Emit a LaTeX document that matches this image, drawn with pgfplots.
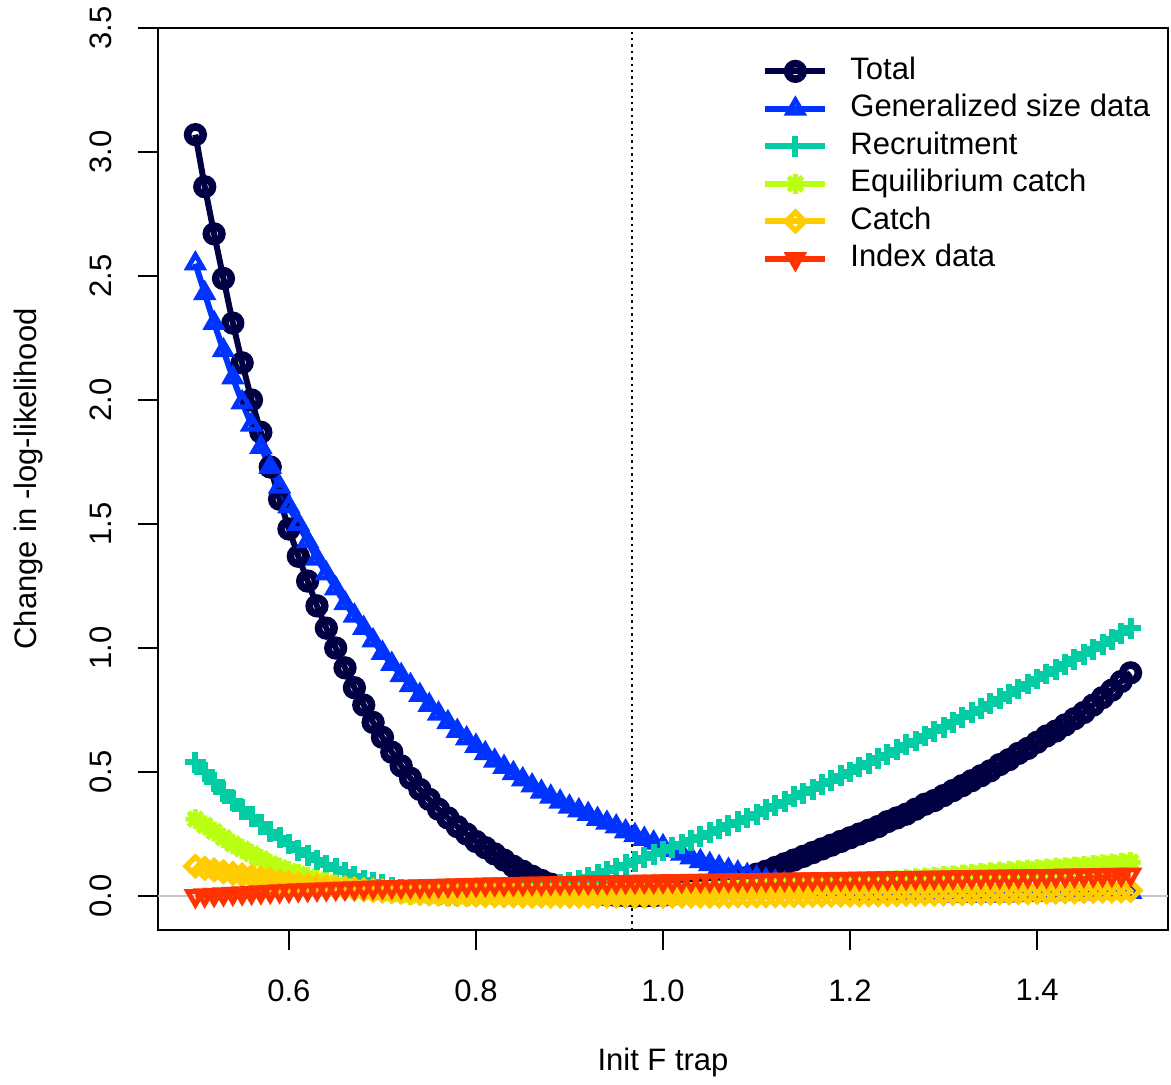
\documentclass[border=0pt]{standalone}
\usepackage{pgfplots}
\pgfplotsset{compat=1.18}
\usepackage{pgfplotstable}
\usepackage{fontspec}
\setmainfont{Liberation Sans}
\definecolor{cT}{HTML}{000043}
\definecolor{cS}{HTML}{0033FF}
\definecolor{cR}{HTML}{01CCA4}
\definecolor{cE}{HTML}{BAFF12}
\definecolor{cC}{HTML}{FFCC00}
\definecolor{cI}{HTML}{FF3300}
\pgfdeclareplotmark{rstar}{%
 \pgfpathmoveto{\pgfqpoint{-\pgfplotmarksize}{0pt}}\pgfpathlineto{\pgfqpoint{\pgfplotmarksize}{0pt}}%
 \pgfpathmoveto{\pgfqpoint{0pt}{-\pgfplotmarksize}}\pgfpathlineto{\pgfqpoint{0pt}{\pgfplotmarksize}}%
 \pgfpathmoveto{\pgfqpoint{-0.707\pgfplotmarksize}{-0.707\pgfplotmarksize}}\pgfpathlineto{\pgfqpoint{0.707\pgfplotmarksize}{0.707\pgfplotmarksize}}%
 \pgfpathmoveto{\pgfqpoint{-0.707\pgfplotmarksize}{0.707\pgfplotmarksize}}\pgfpathlineto{\pgfqpoint{0.707\pgfplotmarksize}{-0.707\pgfplotmarksize}}%
 \pgfusepathqstroke}
\pgfplotstableread{
x T S R E C I
0.50 3.07 2.55 0.54 0.31 0.12 0.000
0.51 2.86 2.43 0.50 0.285 0.112 0.003
0.52 2.67 2.31 0.46 0.26 0.105 0.005
0.53 2.49 2.20 0.42 0.235 0.098 0.008
0.54 2.31 2.09 0.385 0.21 0.091 0.010
0.55 2.15 1.99 0.35 0.19 0.085 0.012
0.56 2.00 1.90 0.32 0.17 0.079 0.014
0.57 1.87 1.81 0.29 0.15 0.073 0.016
0.58 1.73 1.73 0.26 0.13 0.066 0.018
0.59 1.60 1.65 0.235 0.115 0.060 0.020
0.60 1.48 1.57 0.21 0.10 0.055 0.022
0.61 1.37 1.50 0.185 0.088 0.050 0.024
0.62 1.27 1.43 0.165 0.076 0.046 0.025
0.63 1.17 1.36 0.145 0.065 0.042 0.027
0.64 1.08 1.30 0.125 0.055 0.038 0.028
0.65 1.00 1.24 0.11 0.046 0.035 0.030
0.66 0.92 1.18 0.095 0.038 0.032 0.031
0.67 0.84 1.13 0.08 0.031 0.028 0.032
0.68 0.77 1.08 0.065 0.025 0.025 0.034
0.69 0.70 1.03 0.055 0.020 0.022 0.035
0.70 0.64 0.98 0.045 0.015 0.020 0.036
0.71 0.58 0.935 0.035 0.011 0.018 0.037
0.72 0.525 0.89 0.027 0.008 0.016 0.038
0.73 0.475 0.85 0.020 0.005 0.014 0.039
0.74 0.43 0.81 0.014 0.003 0.012 0.040
0.75 0.39 0.77 0.009 0.002 0.010 0.041
0.76 0.35 0.735 0.005 0.001 0.009 0.042
0.77 0.315 0.70 0.003 0.000 0.007 0.043
0.78 0.28 0.665 0.001 0.000 0.006 0.044
0.79 0.25 0.635 0.000 0.000 0.005 0.045
0.80 0.22 0.605 0.000 0.000 0.004 0.046
0.81 0.195 0.575 0.001 0.000 0.003 0.047
0.82 0.17 0.545 0.003 0.000 0.002 0.048
0.83 0.145 0.52 0.006 0.000 0.002 0.048
0.84 0.12 0.495 0.010 0.000 0.001 0.049
0.85 0.10 0.47 0.015 0.000 0.001 0.050
0.86 0.08 0.445 0.021 0.000 0.000 0.051
0.87 0.063 0.42 0.028 0.000 0.000 0.051
0.88 0.048 0.40 0.036 0.000 0.000 0.052
0.89 0.036 0.38 0.045 0.000 0.000 0.053
0.90 0.026 0.36 0.055 0.000 0.000 0.054
0.91 0.018 0.345 0.065 0.001 0.000 0.054
0.92 0.012 0.33 0.076 0.002 0.000 0.055
0.93 0.007 0.31 0.088 0.003 0.000 0.056
0.94 0.004 0.295 0.10 0.004 0.000 0.056
0.95 0.002 0.28 0.113 0.005 0.000 0.057
0.96 0.001 0.26 0.126 0.006 0.000 0.058
0.97 0.000 0.245 0.14 0.007 0.000 0.058
0.98 0.000 0.23 0.154 0.008 0.000 0.059
0.99 0.001 0.215 0.168 0.009 0.000 0.059
1.00 0.003 0.20 0.182 0.010 0.000 0.060
1.01 0.007 0.185 0.196 0.012 0.000 0.061
1.02 0.012 0.17 0.21 0.014 0.000 0.061
1.03 0.018 0.155 0.225 0.016 0.000 0.062
1.04 0.025 0.14 0.24 0.018 0.000 0.062
1.05 0.033 0.128 0.255 0.020 0.000 0.063
1.06 0.042 0.116 0.27 0.022 0.000 0.063
1.07 0.052 0.105 0.285 0.024 0.000 0.064
1.08 0.063 0.094 0.30 0.026 0.001 0.064
1.09 0.075 0.084 0.315 0.028 0.001 0.065
1.10 0.088 0.074 0.33 0.030 0.001 0.065
1.11 0.10 0.065 0.35 0.032 0.001 0.066
1.12 0.115 0.057 0.365 0.034 0.002 0.066
1.13 0.13 0.050 0.38 0.036 0.002 0.067
1.14 0.145 0.043 0.40 0.038 0.002 0.067
1.15 0.16 0.037 0.415 0.040 0.002 0.068
1.16 0.175 0.031 0.43 0.042 0.003 0.068
1.17 0.19 0.026 0.45 0.044 0.003 0.069
1.18 0.205 0.021 0.465 0.046 0.003 0.069
1.19 0.22 0.017 0.485 0.048 0.004 0.070
1.20 0.235 0.014 0.50 0.050 0.004 0.070
1.21 0.25 0.011 0.52 0.053 0.004 0.071
1.22 0.265 0.008 0.535 0.056 0.005 0.071
1.23 0.28 0.006 0.555 0.059 0.005 0.072
1.24 0.30 0.004 0.57 0.062 0.006 0.072
1.25 0.315 0.003 0.59 0.065 0.006 0.073
1.26 0.33 0.002 0.61 0.068 0.007 0.073
1.27 0.35 0.001 0.625 0.071 0.007 0.074
1.28 0.37 0.001 0.645 0.074 0.008 0.074
1.29 0.385 0.000 0.665 0.077 0.008 0.075
1.30 0.405 0.000 0.68 0.080 0.009 0.075
1.31 0.425 0.000 0.70 0.083 0.010 0.076
1.32 0.445 0.000 0.72 0.086 0.010 0.077
1.33 0.465 0.000 0.74 0.089 0.011 0.077
1.34 0.485 0.001 0.755 0.092 0.011 0.078
1.35 0.505 0.001 0.775 0.095 0.012 0.078
1.36 0.53 0.002 0.795 0.098 0.013 0.079
1.37 0.55 0.002 0.815 0.100 0.013 0.079
1.38 0.575 0.003 0.835 0.103 0.014 0.080
1.39 0.595 0.004 0.855 0.106 0.014 0.080
1.40 0.62 0.005 0.875 0.108 0.015 0.081
1.41 0.645 0.006 0.895 0.111 0.016 0.081
1.42 0.665 0.007 0.915 0.114 0.016 0.082
1.43 0.69 0.008 0.935 0.116 0.017 0.083
1.44 0.715 0.009 0.955 0.119 0.017 0.083
1.45 0.74 0.010 0.975 0.122 0.018 0.084
1.46 0.77 0.011 0.995 0.125 0.019 0.084
1.47 0.80 0.012 1.015 0.128 0.020 0.085
1.48 0.83 0.014 1.035 0.131 0.020 0.086
1.49 0.865 0.015 1.06 0.134 0.021 0.086
1.50 0.90 0.016 1.08 0.137 0.022 0.087
}\data
\begin{document}
\begin{tikzpicture}
\begin{axis}[
  scale only axis, width=505pt, height=451pt,
  xmin=0.46, xmax=1.54, ymin=-0.137, ymax=3.5,
  font=\fontsize{15.5}{18}\selectfont,
  axis line style={black, line width=0.9pt},
  tick align=outside, major tick length=10pt,
  every tick/.style={black, line width=0.9pt},
  xtick pos=bottom, ytick pos=left,
  xtick={0.6,0.8,1.0,1.2,1.4}, xticklabels={0.6,0.8,1.0,1.2,1.4},
  ytick={0,0.5,1,1.5,2,2.5,3,3.5}, yticklabels={0.0,0.5,1.0,1.5,2.0,2.5,3.0,3.5},
  xticklabel style={inner sep=0pt, anchor=north, font=\fontsize{15.5}{18}\selectfont},
  yticklabel style={inner sep=0pt, rotate=90, anchor=south, font=\fontsize{15.5}{18}\selectfont},
  xticklabel shift=14.5pt, yticklabel shift=13pt,
  every axis x label/.style={at={(axis description cs:0.5,0)}, yshift=-66pt, anchor=center},
  every axis y label/.style={at={(axis description cs:0,0.5)}, xshift=-65pt, rotate=90, anchor=center},
  xlabel={Init F trap}, ylabel={Change in -log-likelihood},
  legend style={at={(rel axis cs:0.598,0.969)}, anchor=north west, draw=none, fill=none,
    font=\fontsize{15.5}{18}\selectfont, inner sep=0pt, row sep=3.75pt, column sep=11pt,
    nodes={inner sep=0pt, text height=11.5pt, text depth=3.5pt}},
  legend cell align=left,
  legend image code/.code={\draw[mark repeat=2,mark phase=2] plot coordinates {(0pt,0pt) (15pt,0pt) (30pt,0pt)};},
]
\coordinate (bl) at (rel axis cs:0,0);
\coordinate (tr) at (rel axis cs:1,1);
\addplot[gray!45, line width=1pt, forget plot] coordinates {(0.46,0) (1.54,0)};
\addplot[cT, line width=3pt, mark=o, mark size=3.9pt, mark options={solid, line width=3.8pt}] table[x=x,y=T] {\data};
\addlegendentry{Total}
\addplot[cS, line width=3pt, mark=triangle, mark size=4.4pt, mark options={solid, line width=2.4pt}] table[x=x,y=S] {\data};
\addlegendentry{Generalized size data}
\addplot[cR, line width=3pt, mark=+, mark size=5.2pt, mark options={solid, line width=3pt}] table[x=x,y=R] {\data};
\addlegendentry{Recruitment}
\addplot[cE, line width=3pt, mark=rstar, mark size=5pt, mark options={solid, line width=2.5pt}] table[x=x,y=E] {\data};
\addlegendentry{Equilibrium catch}
\addplot[cC, line width=3pt, mark=square, mark size=3.3pt, mark options={solid, rotate=45, line width=2.6pt}] table[x=x,y=C] {\data};
\addlegendentry{Catch}
\addplot[cI, line width=3pt, mark=triangle, mark size=4.4pt, mark options={solid, rotate=180, line width=2.4pt}] table[x=x,y=I] {\data};
\addlegendentry{Index data}
\draw[black, dotted, line width=1.2pt] (axis cs:0.967,-0.137) -- (axis cs:0.967,3.5);
\end{axis}
\pgfresetboundingbox
\path ([xshift=-79pt,yshift=-77pt]bl) rectangle ([xshift=1.5pt,yshift=14pt]tr);
\end{tikzpicture}
\end{document}
